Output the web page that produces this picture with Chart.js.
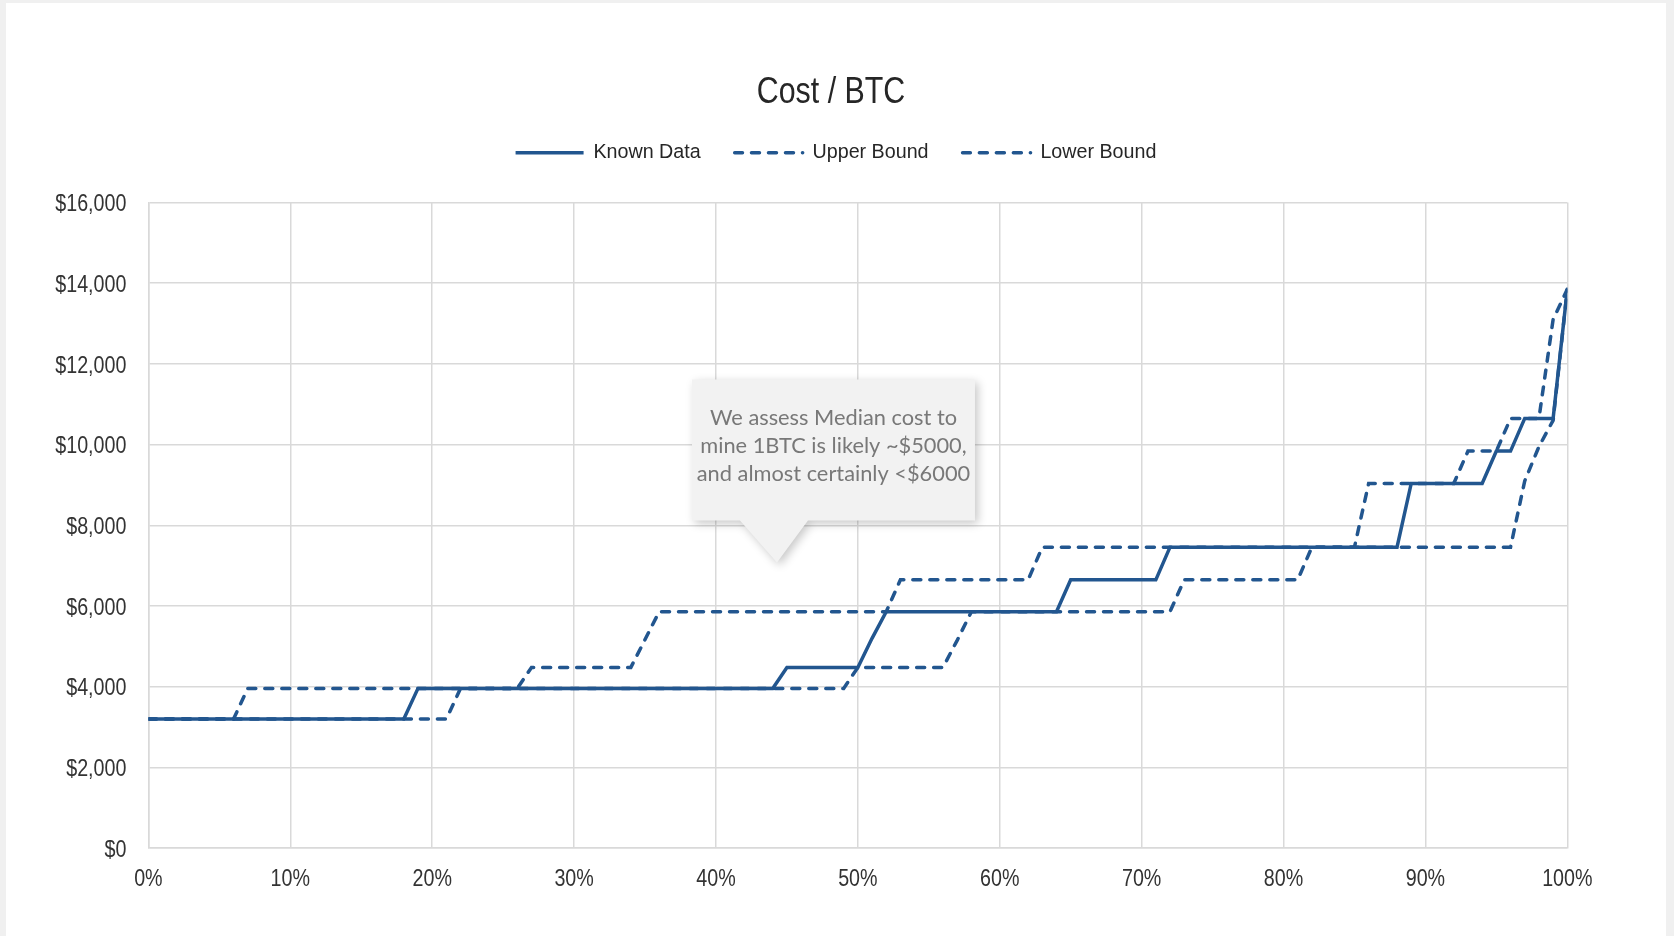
<!DOCTYPE html>
<html>
<head>
<meta charset="utf-8">
<title>Cost / BTC</title>
<script src="https://cdn.jsdelivr.net/npm/chart.js@4.4.1/dist/chart.umd.min.js"></script>
<style>
  html, body { margin: 0; padding: 0; background: #f0f0f0; }
  #frame { position: absolute; left: 6px; top: 3px; width: 1660px; height: 933px; background: #fff; }
  canvas { display: block; }
</style>
</head>
<body>
<div id="frame"><canvas id="costChart" width="1660" height="933"></canvas></div>
<script>
// Share of hashrate (%) against mining cost per BTC ($)
const knownX = [0, 18, 19, 44, 45, 50, 51, 52, 64, 65, 71, 72, 88, 89, 94, 95, 96, 97, 99, 100];
const knownY = [3200, 3200, 3960, 3960, 4480, 4480, 5200, 5860, 5860, 6650, 6650, 7460, 7460, 9040, 9040, 9840, 9840, 10650, 10650, 13850];

const upperX = [0, 6, 7, 26, 27, 34, 35, 36, 52, 53, 62, 63, 85, 86, 92, 93, 95, 96, 98, 99, 100];
const upperY = [3200, 3200, 3960, 3960, 4480, 4480, 5170, 5860, 5860, 6650, 6650, 7460, 7460, 9040, 9040, 9840, 9840, 10650, 10650, 13100, 13850];

const lowerX = [0, 21, 22, 49, 50, 56, 57, 58, 72, 73, 81, 82, 96, 97, 98, 99, 100];
const lowerY = [3200, 3200, 3960, 3960, 4480, 4480, 5150, 5860, 5860, 6650, 6650, 7460, 7460, 9100, 9950, 10600, 13850];

const xTicks = [0, 10, 20, 30, 40, 50, 60, 70, 80, 90, 100];
const yTicks = [0, 2000, 4000, 6000, 8000, 10000, 12000, 14000, 16000];

// callout: tip of the pointer in data units, and its text
const calloutAt = [44.3, 7080];
const calloutText = ['We assess Median cost to', 'mine 1BTC is likely ~$5000,', 'and almost certainly <$6000'];

const TITLE = 'Cost / BTC';
const BLUE = '#22568f';
const REGULAR = '"Liberation Sans", Arial, sans-serif';
const NARROW_SCALE = 0.82; // no narrow face installed, so squeeze the regular one

const fmtX = (v) => v + '%';
const fmtY = (v) => '$' + v.toLocaleString('en-US');

function toPoints(xs, ys) {
    return xs.map((x, i) => ({ x: x, y: ys[i] }));
}

function fillNarrow(ctx, text, x, y, align) {
    ctx.save();
    ctx.translate(x, y);
    ctx.scale(NARROW_SCALE, 1);
    ctx.textAlign = align;
    ctx.fillText(text, 0, 0);
    ctx.restore();
}

// title and tick labels in a condensed face
const narrowText = {
    id: 'narrowText',
    afterDraw(chart) {
        const { ctx, chartArea, scales: { x, y } } = chart;
        ctx.save();
        ctx.textBaseline = 'alphabetic';

        ctx.fillStyle = '#333333';
        ctx.font = '24px ' + REGULAR;
        y.ticks.forEach(t => {
            fillNarrow(ctx, fmtY(t.value), chartArea.left - 22, y.getPixelForValue(t.value) + 8.6, 'right');
        });
        x.ticks.forEach(t => {
            fillNarrow(ctx, fmtX(t.value), x.getPixelForValue(t.value), chartArea.bottom + 38, 'center');
        });

        const tb = chart.titleBlock;
        ctx.fillStyle = '#262626';
        ctx.font = '37px ' + REGULAR;
        fillNarrow(ctx, TITLE, (tb.left + tb.right) / 2 - 5, 99.7, 'center');
        ctx.restore();
    }
};

const calloutPlugin = {
    id: 'callout',
    afterDraw(chart) {
        const { ctx, scales: { x, y } } = chart;
        const tx = x.getPixelForValue(calloutAt[0]);
        const ty = y.getPixelForValue(calloutAt[1]);
        const left = tx - 85, right = tx + 198, top = ty - 183, bottom = ty - 42;

        ctx.save();
        ctx.shadowColor = 'rgba(0, 0, 0, 0.22)';
        ctx.shadowBlur = 10;
        ctx.shadowOffsetX = 3;
        ctx.shadowOffsetY = 3;
        ctx.fillStyle = '#f2f2f2';
        ctx.beginPath();
        ctx.moveTo(left, top);
        ctx.lineTo(right, top);
        ctx.lineTo(right, bottom);
        ctx.lineTo(tx + 31, bottom);
        ctx.lineTo(tx, ty);
        ctx.lineTo(tx - 37, bottom);
        ctx.lineTo(left, bottom);
        ctx.closePath();
        ctx.fill();
        ctx.restore();

        ctx.save();
        ctx.fillStyle = '#787878';
        ctx.font = '21.8px Lato, "Open Sans", sans-serif';
        ctx.textAlign = 'center';
        ctx.textBaseline = 'alphabetic';
        calloutText.forEach((line, i) => {
            ctx.fillText(line, tx + 56.5, ty - 137 + i * 28);
        });
        ctx.restore();
    }
};

const ctx = document.getElementById('costChart').getContext('2d');

new Chart(ctx, {
    type: 'line',
    data: {
        datasets: [
            {
                label: 'Known Data',
                data: toPoints(knownX, knownY),
                borderColor: BLUE,
                backgroundColor: BLUE,
                borderWidth: 3.5,
                borderCapStyle: 'butt'
            },
            {
                label: 'Upper Bound',
                data: toPoints(upperX, upperY),
                borderColor: BLUE,
                backgroundColor: BLUE,
                borderWidth: 3.5,
                borderDash: [8, 9],
                borderCapStyle: 'round'
            },
            {
                label: 'Lower Bound',
                data: toPoints(lowerX, lowerY),
                borderColor: BLUE,
                backgroundColor: BLUE,
                borderWidth: 3.5,
                borderDash: [8, 9],
                borderCapStyle: 'round'
            }
        ]
    },
    options: {
        responsive: false,
        animation: false,
        events: [],
        elements: {
            point: { radius: 0, hoverRadius: 0 },
            line: { tension: 0, fill: false }
        },
        layout: { padding: 0 },
        scales: {
            x: {
                type: 'linear',
                min: 0,
                max: 100,
                afterBuildTicks: (scale) => { scale.ticks = xTicks.map(v => ({ value: v })); },
                afterFit: (scale) => { scale.height = 87.8; scale.paddingRight = 98.7; },
                ticks: {
                    padding: 14,
                    color: 'rgba(0,0,0,0)',
                    font: { family: REGULAR, size: 24 },
                    callback: fmtX
                },
                grid: { color: '#d9d9d9', lineWidth: 1.5, drawTicks: false },
                border: { color: '#d9d9d9', width: 1.5 }
            },
            y: {
                min: 0,
                max: 16000,
                afterBuildTicks: (scale) => { scale.ticks = yTicks.map(v => ({ value: v })); },
                afterFit: (scale) => { scale.width = 142.4; },
                ticks: {
                    padding: 22,
                    color: 'rgba(0,0,0,0)',
                    font: { family: REGULAR, size: 24 },
                    callback: fmtY
                },
                grid: { color: '#d9d9d9', lineWidth: 1.5, drawTicks: false },
                border: { color: '#d9d9d9', width: 1.5 }
            }
        },
        plugins: {
            // kept for layout only, the text itself is drawn by narrowText
            title: {
                display: true,
                text: TITLE,
                color: 'rgba(0,0,0,0)',
                font: { family: REGULAR, size: 37, weight: 'normal', lineHeight: 1 },
                padding: { top: 67, bottom: 2 }
            },
            subtitle: {
                display: true,
                text: '',
                weight: 500,
                font: { size: 1, lineHeight: 1 },
                padding: { top: 28.8, bottom: 0 }
            },
            legend: {
                position: 'top',
                labels: {
                    usePointStyle: true,
                    pointStyle: 'line',
                    pointStyleWidth: 68,
                    padding: 34,
                    color: '#262626',
                    font: { family: REGULAR, size: 19.7 },
                    generateLabels(chart) {
                        const items = Chart.defaults.plugins.legend.labels.generateLabels(chart);
                        items.forEach(item => {
                            const ds = chart.data.datasets[item.datasetIndex];
                            item.lineDash = ds.borderDash || [];
                            item.lineDashOffset = ds.borderDash ? 0.2 : 0;
                            item.lineCap = ds.borderCapStyle || 'butt';
                            item.lineWidth = ds.borderWidth;
                        });
                        return items;
                    }
                }
            },
            tooltip: { enabled: false }
        }
    },
    plugins: [narrowText, calloutPlugin]
});
</script>
</body>
</html>
